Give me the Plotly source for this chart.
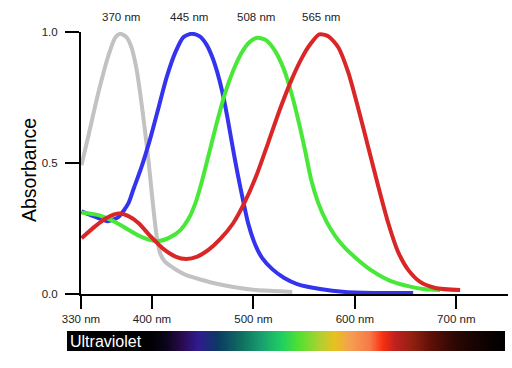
import plotly.graph_objects as go

# ---------------- data ----------------
gray_nm = [330.5, 337.4, 347.2, 357.1, 364.0, 368.9, 374.8, 379.7, 384.6, 388.6, 392.5, 396.5,
           399.4, 402.4, 405.3, 408.3, 412.2, 418.1, 425.0, 433.9, 442.8, 460.5, 480.2, 502.8, 538.3]
gray_abs = [0.492, 0.606, 0.770, 0.911, 0.980, 0.993, 0.980, 0.942, 0.862, 0.759, 0.641, 0.511,
            0.400, 0.290, 0.202, 0.153, 0.126, 0.107, 0.090, 0.072, 0.061, 0.042, 0.027, 0.015, 0.008]

blue_nm = [330.5, 347.2, 356.1, 366.9, 376.8, 381.7, 389.6, 398.4, 406.3, 414.2, 423.1, 430.9,
           438.8, 446.7, 453.6, 459.5, 464.4, 469.4, 474.3, 479.2, 484.1, 489.1, 495.0, 501.9,
           508.7, 518.6, 530.4, 543.2, 565.9, 590.5, 625.0, 657.5]
blue_abs = [0.315, 0.290, 0.278, 0.294, 0.347, 0.400, 0.484, 0.595, 0.709, 0.824, 0.923, 0.980,
            0.993, 0.984, 0.953, 0.904, 0.846, 0.770, 0.675, 0.568, 0.465, 0.370, 0.267, 0.187,
            0.137, 0.095, 0.061, 0.038, 0.019, 0.008, 0.004, 0.004]

green_nm = [330.5, 347.2, 360.0, 373.8, 386.6, 396.5, 406.3, 418.1, 428.0, 435.9, 442.8, 448.7,
            454.6, 460.5, 466.4, 472.3, 480.2, 488.1, 496.0, 503.8, 512.7, 521.6, 530.4, 538.3,
            545.2, 551.1, 557.0, 564.0, 571.8, 580.7, 590.5, 602.3, 617.1, 634.9, 651.6, 667.4, 684.1]
green_abs = [0.311, 0.301, 0.282, 0.252, 0.223, 0.208, 0.202, 0.217, 0.244, 0.286, 0.347, 0.423,
             0.511, 0.602, 0.690, 0.770, 0.854, 0.919, 0.961, 0.978, 0.968, 0.926, 0.854, 0.755,
             0.648, 0.545, 0.435, 0.347, 0.278, 0.221, 0.175, 0.133, 0.088, 0.050, 0.031, 0.019, 0.015]

red_nm = [330.5, 344.2, 355.1, 366.9, 376.8, 386.6, 398.4, 411.2, 423.1, 433.9, 444.7, 455.6,
          467.4, 480.2, 492.0, 503.8, 514.7, 526.5, 538.3, 548.2, 556.0, 564.9, 573.8, 583.6,
          593.5, 603.3, 613.2, 623.0, 632.9, 642.7, 652.6, 664.4, 679.2, 703.8]
red_abs = [0.213, 0.259, 0.290, 0.307, 0.297, 0.271, 0.221, 0.172, 0.143, 0.134, 0.143, 0.168,
           0.210, 0.271, 0.355, 0.461, 0.579, 0.709, 0.824, 0.904, 0.953, 0.991, 0.984, 0.942,
           0.846, 0.709, 0.560, 0.412, 0.271, 0.160, 0.092, 0.046, 0.023, 0.015]

peak_labels = ["370 nm", "445 nm", "508 nm", "565 nm"]
peak_label_x = [369.5, 436.5, 502.5, 566.5]

x_tickvals = [330, 400, 500, 600, 700]
x_ticktext = ["330 nm", "400 nm", "500 nm", "600 nm", "700 nm"]
y_tickvals = [0, 0.5, 1.0]
y_ticktext = ["0.0", "0.5", "1.0"]

spectrum_stops = [0.0, 0.19, 0.224, 0.263, 0.299, 0.345, 0.40, 0.445, 0.491, 0.532, 0.578,
                  0.612, 0.646, 0.692, 0.721, 0.749, 0.790, 0.829, 0.881, 0.927, 0.973, 1.0]
spectrum_colors = ["#000000", "#020004", "#0a0418", "#2a0a50", "#301a90", "#0c3a64", "#107060",
                   "#18a070", "#20d060", "#55e030", "#b0d030", "#e8c020", "#f4a050", "#f87848",
                   "#f83010", "#c02020", "#902010", "#601008", "#300804", "#180402", "#080000",
                   "#000000"]

FONT = "Liberation Sans, Arial, sans-serif"

fig = go.Figure()
for nm, ab, col in [(gray_nm, gray_abs, "#c2c2c2"), (blue_nm, blue_abs, "#3434ee"),
                    (green_nm, green_abs, "#48e838"), (red_nm, red_abs, "#d92626")]:
    fig.add_trace(go.Scatter(x=nm, y=ab, mode="lines",
                             line=dict(color=col, width=4, shape="spline", smoothing=0.7),
                             hoverinfo="skip", showlegend=False))

# spectrum bar as a horizontal colorbar
fig.add_trace(go.Scatter(
    x=[x_tickvals[0]], y=[y_tickvals[0]], mode="markers",
    marker=dict(size=1, opacity=0, color=[0], cmin=0, cmax=1,
                colorscale=[[s, c] for s, c in zip(spectrum_stops, spectrum_colors)],
                showscale=True,
                colorbar=dict(orientation="h", lenmode="pixels", len=438,
                              thicknessmode="pixels", thickness=20,
                              x=0.480, xanchor="center", y=-0.1794, yanchor="middle",
                              xpad=0, ypad=0, outlinewidth=0, ticks="",
                              showticklabels=False)),
    hoverinfo="skip", showlegend=False))

annotations = []
for t, xv in zip(peak_labels, peak_label_x):
    annotations.append(dict(text=t, x=xv, xref="x", y=1.056, yref="paper", showarrow=False,
                            xanchor="center", yanchor="middle",
                            font=dict(family=FONT, size=11.5, color="#222")))
annotations.append(dict(text="Absorbance", x=-0.122, xref="paper", y=0.473, yref="paper",
                        textangle=-90, showarrow=False, xanchor="center", yanchor="middle",
                        font=dict(family=FONT, size=19.5, color="#000")))
annotations.append(dict(text="Ultraviolet", x=-0.0304, xref="paper", y=-0.1794, yref="paper",
                        showarrow=False, xanchor="left", yanchor="middle",
                        font=dict(family=FONT, size=16, color="#fff")))

fig.update_layout(
    width=512, height=368,
    margin=dict(l=81, r=4, t=32, b=74),
    paper_bgcolor="white", plot_bgcolor="white",
    font=dict(family=FONT, size=11.5, color="#222"),
    annotations=annotations,
    xaxis=dict(range=[330, 751], showgrid=False, zeroline=False, showline=True,
               linecolor="black", linewidth=2, ticks="outside", ticklen=13, tickwidth=2,
               tickcolor="black", tickvals=x_tickvals, ticktext=x_ticktext,
               tickfont=dict(family=FONT, size=11.5, color="#222")),
    yaxis=dict(range=[0, 1], showgrid=False, zeroline=False, showline=True,
               linecolor="black", linewidth=2, ticks="outside", ticklen=14, tickwidth=2,
               tickcolor="black", tickvals=y_tickvals, ticktext=y_ticktext,
               ticklabelstandoff=5,
               tickfont=dict(family=FONT, size=11.5, color="#222")),
)

fig.write_html("out.html")
